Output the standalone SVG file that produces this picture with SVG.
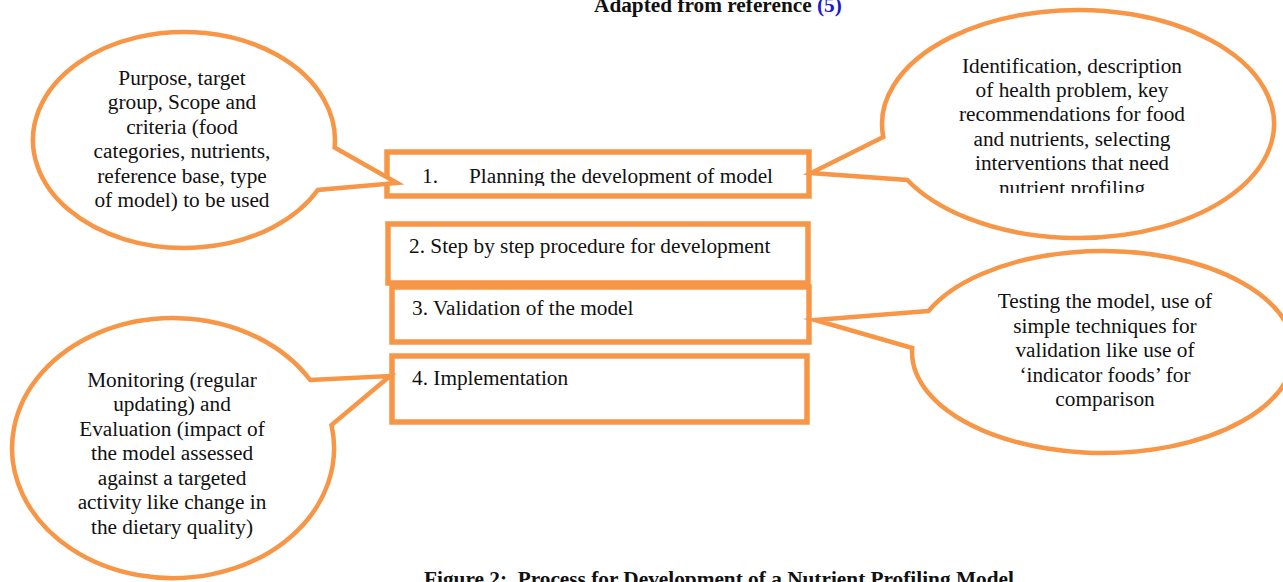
<svg xmlns="http://www.w3.org/2000/svg" width="1283" height="582" viewBox="0 0 1283 582">
  <defs>
    <style>
      text { font-family: "Liberation Serif", "Times New Roman", serif; font-size: 21.3px; fill: #111; }
      .bold { font-weight: bold; }
      .mid { text-anchor: middle; }
      .box { fill: #fff; stroke: #f79646; stroke-width: 5.5; }
      .bubble { fill: #fff; stroke: #f79646; stroke-width: 4.5; stroke-linejoin: miter; stroke-miterlimit: 20; }
      .ref { fill: #1a1ad0; }
    </style>
    <clipPath id="clipStep1"><rect x="390" y="155" width="416" height="31"/></clipPath>
    <clipPath id="clipHealth"><rect x="890" y="40" width="370" height="153"/></clipPath>
  </defs>

  <rect width="1283" height="582" fill="#fff"/>

  <text id="source" class="bold" x="594" y="12">Adapted from reference <tspan class="ref">(5)</tspan></text>

  <!-- process steps -->
  <g id="step1">
    <rect class="box" x="387" y="152" width="422" height="44"/>
    <g clip-path="url(#clipStep1)">
      <text x="422" y="183">1.</text>
      <text x="469" y="183">Planning the development of model</text>
    </g>
  </g>
  <g id="step2">
    <rect class="box" x="388" y="224" width="420" height="59"/>
    <text x="409" y="253">2. Step by step procedure for development</text>
  </g>
  <g id="step3">
    <rect class="box" x="392" y="287" width="417" height="55"/>
    <text x="412" y="315">3. Validation of the model</text>
  </g>
  <g id="step4">
    <rect class="box" x="392" y="356" width="415" height="66"/>
    <text x="412" y="385">4. Implementation</text>
  </g>

  <!-- callout bubbles: ellipse outline with a tail pointing at a step -->
  <g id="connectors">
    <path id="tail-scope" class="bubble" d="M334.6,147.5 L397,183 L317.8,190 A151,108 0 1 1 334.6,147.5 Z"/>
    <path id="tail-health" class="bubble" d="M883.3,137 L811,173 L907.3,180 A196,114 0 1 0 883.3,137 Z"/>
    <path id="tail-testing" class="bubble" d="M928.5,311 L815,320 L912.2,348 A191,101 0 1 0 928.5,311 Z"/>
    <path id="tail-monitoring" class="bubble" d="M310.2,380 L390,376 L331.5,425 A161,130 0 1 1 310.2,380 Z"/>
  </g>

  <g id="scope">
    <text class="mid" x="182" y="85">Purpose, target</text>
    <text class="mid" x="182" y="109">group, Scope and</text>
    <text class="mid" x="182" y="134">criteria (food</text>
    <text class="mid" x="182" y="158">categories, nutrients,</text>
    <text class="mid" x="182" y="183">reference base, type</text>
    <text class="mid" x="182" y="207">of model) to be used</text>
  </g>

  <g id="health">
    <g clip-path="url(#clipHealth)">
      <text class="mid" x="1072" y="73">Identification, description</text>
      <text class="mid" x="1072" y="97">of health problem, key</text>
      <text class="mid" x="1072" y="121">recommendations for food</text>
      <text class="mid" x="1072" y="146">and nutrients, selecting</text>
      <text class="mid" x="1072" y="170">interventions that need</text>
      <text class="mid" x="1072" y="195">nutrient profiling</text>
    </g>
  </g>

  <g id="testing">
    <text class="mid" x="1105" y="308">Testing the model, use of</text>
    <text class="mid" x="1105" y="333">simple techniques for</text>
    <text class="mid" x="1105" y="357">validation like use of</text>
    <text class="mid" x="1105" y="382">‘indicator foods’ for</text>
    <text class="mid" x="1105" y="406">comparison</text>
  </g>

  <g id="monitoring">
    <text class="mid" x="172" y="387">Monitoring (regular</text>
    <text class="mid" x="172" y="411">updating) and</text>
    <text class="mid" x="172" y="436">Evaluation (impact of</text>
    <text class="mid" x="172" y="460">the model assessed</text>
    <text class="mid" x="172" y="485">against a targeted</text>
    <text class="mid" x="172" y="509">activity like change in</text>
    <text class="mid" x="172" y="534">the dietary quality)</text>
  </g>

  <text id="caption" class="bold" x="424" y="586" xml:space="preserve">Figure 2:  Process for Development of a Nutrient Profiling Model</text>
</svg>
